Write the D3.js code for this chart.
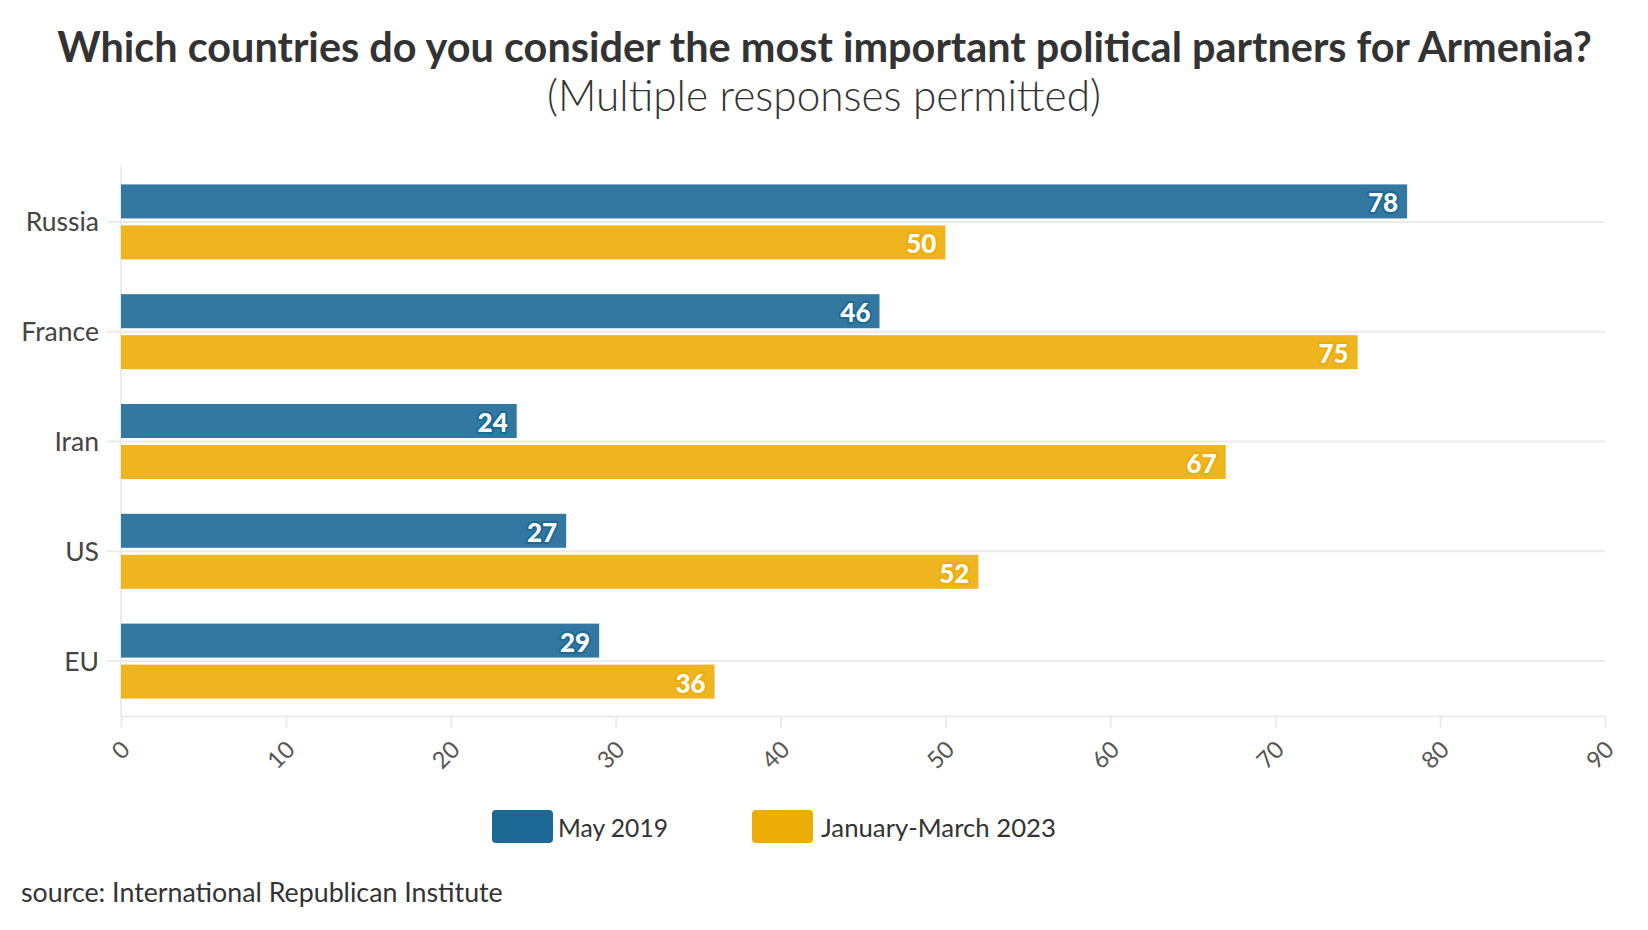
<!DOCTYPE html>
<html>
<head>
<meta charset="utf-8">
<script src="https://cdn.jsdelivr.net/npm/d3@7"></script>
<style>
html,body{margin:0;padding:0;background:#fff;}
svg{display:block;font-family:Lato,"Open Sans",sans-serif;}
</style>
</head>
<body>
<svg id="chart" width="1648" height="930"></svg>
<script>
const categories = ["Russia", "France", "Iran", "US", "EU"];
const seriesNames = ["May 2019", "January-March 2023"];
const may2019 = [78, 46, 24, 27, 29];
const janMar2023 = [50, 75, 67, 52, 36];
const xTickValues = [0, 10, 20, 30, 40, 50, 60, 70, 80, 90];
const colors = ["#1D6996", "#EDAD08"];
const titleText = "Which countries do you consider the most important political partners for Armenia?";
const subtitleText = "(Multiple responses permitted)";
const sourceText = "source: International Republican Institute";

const svg = d3.select("#chart");
const W = 1648, H = 930;
const m = {left: 121, right: 1605, top: 167, bottom: 716};

function fit(sel, target) {
  const n = sel.node();
  const fs = parseFloat(sel.attr("font-size"));
  const w = n.getComputedTextLength();
  sel.attr("font-size", (fs * target / w).toFixed(2));
}

// Title
const title = svg.append("text").attr("x", 824.5).attr("y", 62)
  .attr("text-anchor", "middle").attr("font-size", 40).attr("font-weight", 700)
  .attr("fill", "#333").text(titleText);
fit(title, 1535);
const sub = svg.append("text").attr("x", 824).attr("y", 111)
  .attr("text-anchor", "middle").attr("font-size", 38).attr("font-weight", 300)
  .attr("fill", "#333").text(subtitleText);
fit(sub, 554);

const x = d3.scaleLinear().domain([0, 90]).range([m.left, m.right]);
const y0 = d3.scaleBand().domain(categories).range([m.top, m.bottom]).padding(0);
const groupH = 75;
const y1 = d3.scaleBand().domain(seriesNames).range([0, groupH]).paddingInner(0.17);

const g = svg.append("g");

// gridlines at category centers
g.append("g").selectAll("line").data(categories).join("line")
  .attr("x1", m.left).attr("x2", m.right)
  .attr("y1", d => y0(d) + y0.bandwidth() / 2)
  .attr("y2", d => y0(d) + y0.bandwidth() / 2)
  .attr("stroke", "#ebebeb").attr("stroke-width", 2);

// y axis
const yAxis = g.append("g").attr("transform", `translate(${m.left},0)`)
  .call(d3.axisLeft(y0).tickSize(14).tickPadding(8));
yAxis.select(".domain").remove();
yAxis.selectAll(".tick line").attr("stroke", "#ebebeb").attr("stroke-width", 2);
yAxis.selectAll(".tick text").attr("font-size", 26.5).attr("fill", "#444")
  .attr("font-family", "Lato,sans-serif").attr("dy", "0.36em");
g.append("line").attr("x1", m.left).attr("x2", m.left).attr("y1", m.top).attr("y2", m.bottom)
  .attr("stroke", "#ebebeb").attr("stroke-width", 2);

// x axis
const xAxis = g.append("g").attr("transform", `translate(0,${m.bottom})`)
  .call(d3.axisBottom(x).tickValues(xTickValues).tickSize(12).tickSizeOuter(0));
xAxis.select(".domain").attr("stroke", "#ebebeb").attr("stroke-width", 2);
xAxis.selectAll(".tick line").attr("stroke", "#ebebeb").attr("stroke-width", 2);
xAxis.selectAll(".tick text").attr("font-size", 23.5).attr("fill", "#555")
  .attr("font-family", "Lato,sans-serif")
  .attr("text-anchor", "end").attr("dy", null).attr("y", 0)
  .attr("transform", "translate(10,35) rotate(-45)");

// bars
const rows = categories.map((c, i) => ({cat: c, vals: [may2019[i], janMar2023[i]]}));
const groups = g.append("g").selectAll("g").data(rows).join("g")
  .attr("transform", d => `translate(0,${y0(d.cat) + y0.bandwidth() / 2 - groupH / 2})`);
const bars = groups.selectAll("g").data(d => d.vals.map((v, k) => ({v, k, s: seriesNames[k]}))).join("g");
bars.append("rect")
  .attr("x", x(0)).attr("y", d => y1(d.s))
  .attr("width", d => x(d.v) - x(0)).attr("height", y1.bandwidth())
  .attr("fill", d => colors[d.k]).attr("fill-opacity", 0.9);
bars.append("text")
  .attr("x", d => x(d.v) - 9).attr("y", d => y1(d.s) + y1.bandwidth() / 2)
  .attr("dy", "0.42em").attr("text-anchor", "end")
  .attr("font-size", 26).attr("font-weight", 900).attr("fill", "#fff")
  .attr("stroke", d => colors[d.k]).attr("stroke-width", 4).attr("paint-order", "stroke")
  .attr("stroke-linejoin", "round")
  .text(d => d.v);

// legend
const legendPos = [{sx: 492, tx: 558, tw: 110}, {sx: 752, tx: 821, tw: 235}];
const leg = svg.append("g").selectAll("g").data(seriesNames).join("g");
leg.append("rect").attr("x", (d, i) => legendPos[i].sx).attr("y", 810)
  .attr("width", 61).attr("height", 33).attr("rx", 4)
  .attr("fill", (d, i) => colors[i]);
leg.append("text").attr("x", (d, i) => legendPos[i].tx).attr("y", 837)
  .attr("font-size", 26).attr("fill", "#333").text(d => d)
  .each(function(d, i) { fit(d3.select(this), legendPos[i].tw); });

// source
const src = svg.append("text").attr("x", 21).attr("y", 902)
  .attr("font-size", 24).attr("fill", "#333").text(sourceText);
fit(src, 482);
</script>
</body>
</html>
